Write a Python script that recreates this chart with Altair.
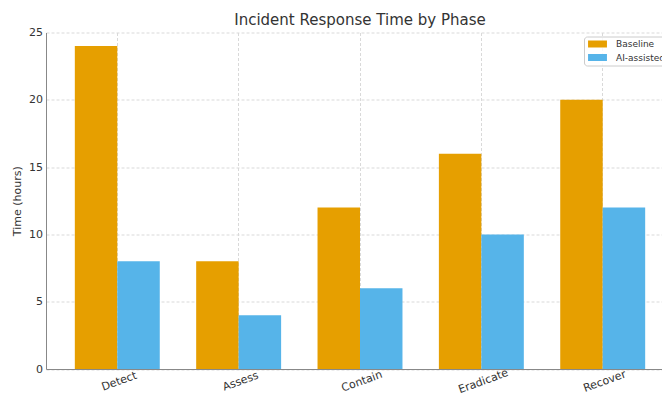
import altair as alt
import pandas as pd

# Hours spent in each incident-response phase
phases = ["Detect", "Assess", "Contain", "Eradicate", "Recover"]
baseline = [24, 8, 12, 16, 20]
ai_assisted = [8, 4, 6, 10, 12]

series = ["Baseline", "AI-assisted"]
colors = ["#E69F00", "#56B4E9"]

rows = []
for phase, b, a in zip(phases, baseline, ai_assisted):
    rows.append({"phase": phase, "series": "Baseline", "hours": b})
    rows.append({"phase": phase, "series": "AI-assisted", "hours": a})
df = pd.DataFrame(rows)

FONT = "DejaVu Sans"
TEXT = "#333333"
SPINE = "#888888"
GRID = "#d9d9d9"

bars = alt.Chart(df).mark_bar().encode(
    x=alt.X(
        "phase:N",
        sort=phases,
        title=None,
        scale=alt.Scale(range=[0, 628], paddingInner=0.3, paddingOuter=0.2375),
        axis=alt.Axis(
            labelAngle=340,
            labelAlign="center",
            labelBaseline="top",
            labelFont=FONT,
            labelFontSize=11,
            labelColor=TEXT,
            labelPadding=6.5,
            ticks=False,
            domainColor=SPINE,
            grid=True,
            gridColor=GRID,
            gridDash=[3, 2],
            bandPosition=0.5,
        ),
    ),
    xOffset=alt.XOffset(
        "series:N", sort=series, scale=alt.Scale(paddingInner=0, paddingOuter=0)
    ),
    y=alt.Y(
        "hours:Q",
        scale=alt.Scale(domain=[0, 25], nice=False),
        axis=alt.Axis(
            values=[0, 5, 10, 15, 20, 25],
            title="Time (hours)",
            titleFont=FONT,
            titleFontSize=11,
            titleFontWeight="normal",
            titleColor=TEXT,
            titlePadding=6,
            labelFont=FONT,
            labelFontSize=11,
            labelColor=TEXT,
            labelPadding=3.5,
            ticks=False,
            domainColor=SPINE,
            grid=True,
            gridColor=GRID,
            gridDash=[3, 2],
        ),
    ),
    color=alt.Color(
        "series:N",
        sort=series,
        scale=alt.Scale(domain=series, range=colors),
        legend=alt.Legend(
            title=None,
            orient="none",
            legendX=538,
            legendY=4,
            # wide, flat swatch drawn around a small nominal symbol size
            symbolType="M-2.7,-1L2.7,-1L2.7,1L-2.7,1Z",
            symbolSize=49,
            symbolOffset=6,
            symbolStrokeWidth=0,
            symbolOpacity=1,
            labelFont=FONT,
            labelFontSize=9,
            labelColor=TEXT,
            labelOffset=14,
            rowPadding=3.5,
            padding=3,
            strokeColor="#cccccc",
            fillColor="rgba(255,255,255,0.8)",
            cornerRadius=3,
        ),
    ),
)

chart = bars.properties(
    width=616,
    height=336.5,
    title=alt.TitleParams(
        "Incident Response Time by Phase",
        font=FONT,
        fontSize=15,
        fontWeight="normal",
        color=TEXT,
        offset=7,
        dx=6,
        dy=8,
    ),
    autosize=alt.AutoSizeParams(type="none"),
    padding={"left": 46, "top": 32.5, "right": 0, "bottom": 29},
).configure_view(stroke=None)

chart.save("out.html", embed_options={"renderer": "svg", "actions": False})
